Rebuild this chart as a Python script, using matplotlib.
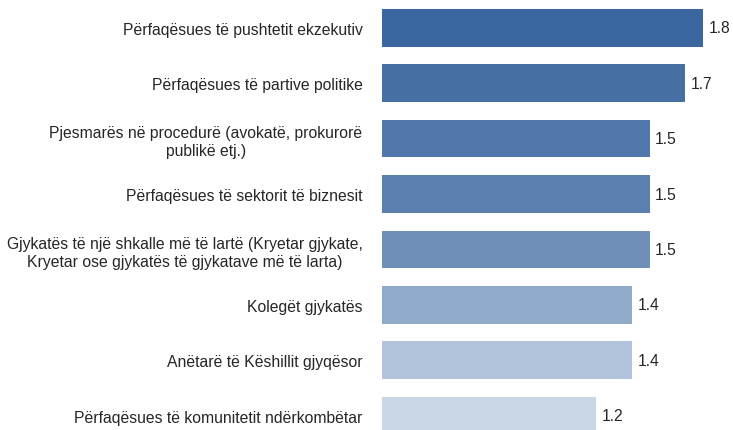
import matplotlib
matplotlib.use('Agg')
from matplotlib import pyplot as plt

# data (top to bottom)
labels = [
    'Përfaqësues të pushtetit ekzekutiv',
    'Përfaqësues të partive politike',
    'Pjesmarës në procedurë (avokatë, prokurorë\npublikë etj.)',
    'Përfaqësues të sektorit të biznesit',
    'Gjykatës të një shkalle më të lartë (Kryetar gjykate,\nKryetar ose gjykatës të gjykatave më të larta)',
    'Kolegët gjykatës',
    'Anëtarë të Këshillit gjyqësor',
    'Përfaqësues të komunitetit ndërkombëtar',
]
values = [1.8, 1.7, 1.5, 1.5, 1.5, 1.4, 1.4, 1.2]
colors = ['#3a67a0', '#4670a4', '#5178aa', '#5b80af',
          '#6f8fb8', '#90aaca', '#b1c3da', '#cad7e5']

plt.rcParams['font.family'] = ['Liberation Sans', 'DejaVu Sans']

W, H = 733, 431
fig = plt.figure(figsize=(W / 100, H / 100), dpi=100)
left = 382 / W
ax = fig.add_axes([left, 0, 1 - left - 12 / W, 1])

pos = list(range(len(values)))
ax.barh(pos, values, height=0.68, color=colors)

for p, v in zip(pos, values):
    ax.annotate(f'{v}', xy=(v, p), xytext=(4, 0), textcoords='offset points',
                ha='left', va='center', fontsize=11.3, color='#262626')

ax.set_yticks(pos)
ax.set_yticklabels(labels, fontsize=11.3, color='#262626',
                   multialignment='center', linespacing=1.25)
ax.tick_params(axis='y', length=0, pad=14)
ax.set_xticks([])
ax.set_xlim(0, 1.9)
ax.set_ylim(7.26, -0.52)
for s in ax.spines.values():
    s.set_visible(False)

fig.savefig('out.png', dpi=100)
